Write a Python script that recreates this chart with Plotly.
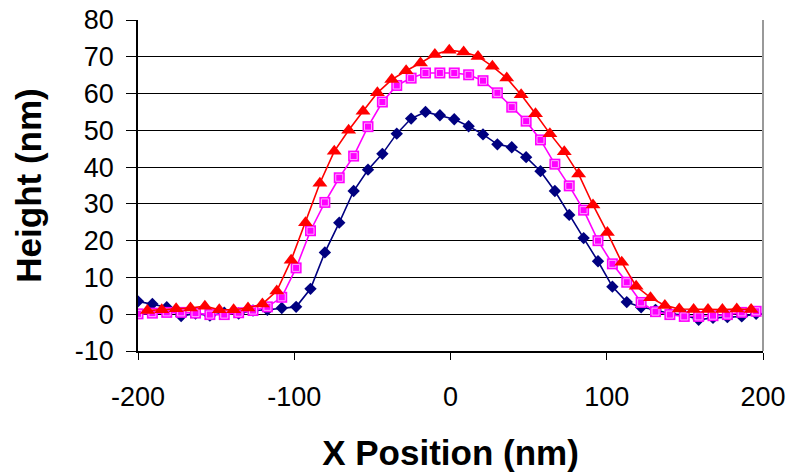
import plotly.graph_objects as go

# X positions (nm)
x_blue_mag = [-200, -190.8, -181.6, -172.4, -163.2, -154, -144.8, -135.6, -126.4, -117.2,
              -108, -98.8, -89.6, -80.4, -71.2, -62, -52.8, -43.6, -34.4, -25.2,
              -16, -6.8, 2.4, 11.6, 20.8, 30, 39.2, 48.4, 57.6, 66.8,
              76, 85.2, 94.4, 103.6, 112.8, 122, 131.2, 140.4, 149.6, 158.8,
              168, 177.2, 186.4, 195.6]
x_red = [-194, -184.8, -175.6, -166.4, -157.2, -148, -138.8, -129.6, -120.4, -111.2,
         -102, -92.8, -83.6, -74.4, -65.2, -56, -46.8, -37.6, -28.4, -19.2,
         -10, -0.8, 8.4, 17.6, 26.8, 36, 45.2, 54.4, 63.6, 72.8,
         82, 91.2, 100.4, 109.6, 118.8, 128, 137.2, 146.4, 155.6, 164.8,
         174, 183.2, 192.4]

# Heights (nm)
y_blue = [3.5, 2.8, 1.9, -0.5, 0.2, -0.4, 0.4, 0.2, 1.0, 1.2,
          1.7, 2.0, 6.9, 16.8, 24.9, 33.5, 39.3, 43.6, 49.1, 53.2,
          55.0, 54.1, 53.0, 51.1, 48.9, 46.2, 45.4, 42.7, 38.9, 33.5,
          27.0, 20.7, 14.4, 7.5, 3.3, 1.9, 1.2, 0.1, -0.2, -1.5,
          -1.0, -0.8, -0.6, 0.1]
y_magenta = [0.1, 0.3, 0.5, 0.5, 0.3, -0.1, -0.1, 0.4, 1.0, 2.0,
             4.6, 12.6, 22.7, 30.4, 37.1, 43.0, 51.0, 57.7, 62.2, 64.2,
             65.6, 65.6, 65.6, 65.1, 63.5, 60.2, 56.3, 52.5, 47.4, 40.8,
             34.9, 28.3, 20.0, 13.7, 8.7, 3.2, 0.7, -0.1, -0.6, -0.6,
             -0.4, -0.1, 0.5, 0.8]
y_red = [1.0, 1.2, 1.5, 1.7, 2.2, 1.2, 1.2, 1.7, 2.8, 6.3,
         14.7, 24.9, 35.6, 44.3, 50.0, 55.2, 60.2, 63.8, 66.2, 68.3,
         70.6, 71.8, 71.3, 70.1, 67.4, 64.2, 59.7, 54.5, 49.1, 44.2,
         38.1, 29.7, 22.2, 14.1, 7.6, 4.5, 2.4, 1.4, 1.3, 1.3,
         1.3, 1.4, 1.3]

x_ticks = [-200, -100, 0, 100, 200]
x_labels = ["-200", "-100", "0", "100", "200"]
y_ticks = [-10, 0, 10, 20, 30, 40, 50, 60, 70, 80]
y_labels = ["-10", "0", "10", "20", "30", "40", "50", "60", "70", "80"]

FONT = "Arial, Liberation Sans, sans-serif"

fig = go.Figure()
fig.add_trace(go.Scatter(
    x=x_blue_mag, y=y_blue, mode="lines+markers",
    line=dict(color="#000080", width=1.6),
    marker=dict(symbol="diamond", size=9.5, color="#000080"),
    showlegend=False))
fig.add_trace(go.Scatter(
    x=x_blue_mag, y=y_magenta, mode="lines",
    line=dict(color="#FF00FF", width=1.6),
    showlegend=False))
fig.add_trace(go.Scatter(
    x=x_blue_mag, y=y_magenta, mode="markers",
    marker=dict(symbol="square", size=11, color="#FF00FF"),
    showlegend=False))
fig.add_trace(go.Scatter(
    x=x_blue_mag, y=y_magenta, mode="markers",
    marker=dict(symbol="square", size=7, color="#FF00FF",
                line=dict(color="#FFA8FF", width=1)),
    showlegend=False))
fig.add_trace(go.Scatter(
    x=x_red, y=y_red, mode="lines+markers",
    line=dict(color="#FF0000", width=1.6),
    marker=dict(symbol="triangle-up", size=13, color="#FF0000"),
    showlegend=False))

fig.update_layout(
    width=792, height=472,
    margin=dict(l=138, r=29, t=20, b=121, autoexpand=False),
    paper_bgcolor="white", plot_bgcolor="white",
    font=dict(family=FONT, color="black", size=27),
    xaxis=dict(
        range=[-200, 200], tickvals=x_ticks, ticktext=x_labels, ticks="outside", ticklen=7,
        tickwidth=1, tickcolor="black", showline=True, linecolor="black",
        linewidth=1.5, showgrid=False, zeroline=False, automargin=False,
        tickfont=dict(size=27), ticklabelstandoff=14,
        title=dict(text="<b>X Position (nm)</b>", font=dict(size=35), standoff=38),
    ),
    yaxis=dict(
        range=[-10, 80], tickvals=y_ticks, ticktext=y_labels, ticks="outside", ticklen=10,
        tickwidth=1, tickcolor="black", showline=True, linecolor="black",
        linewidth=1.5, showgrid=True, gridcolor="black", gridwidth=1,
        zeroline=False, automargin=False, tickfont=dict(size=27), ticklabelstandoff=7,
        title=dict(text="<b>Height (nm)</b>", font=dict(size=35), standoff=23),
    ),
    shapes=[dict(type="line", xref="paper", yref="paper", x0=1, x1=1, y0=0, y1=1,
                 line=dict(color="#999999", width=2))],
)

fig.write_html("out.html")
